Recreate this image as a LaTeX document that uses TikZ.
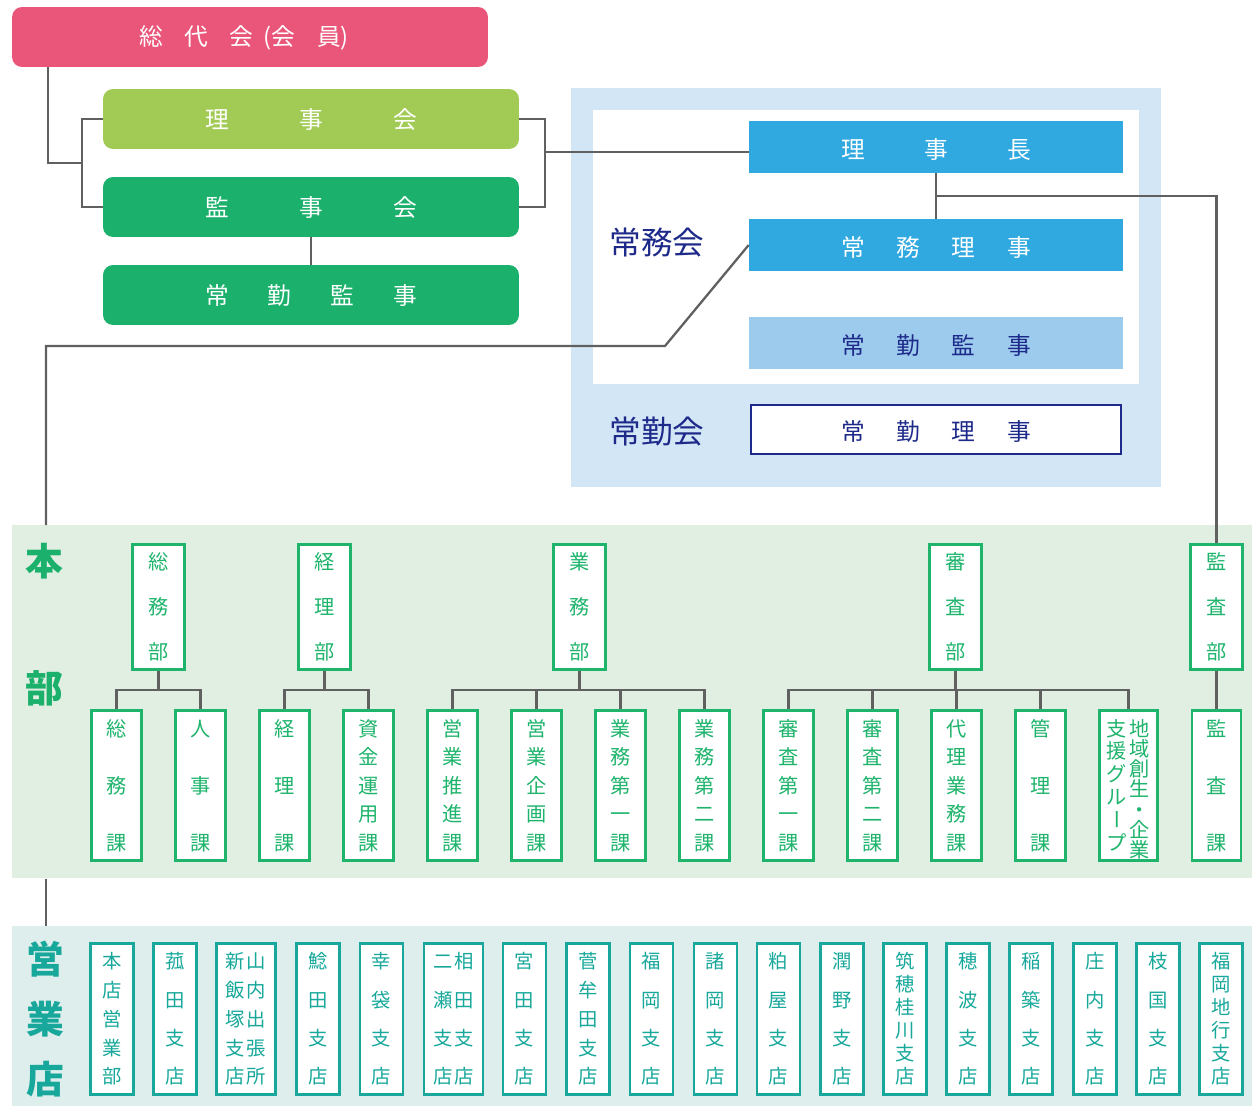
\documentclass[tikz,border=0pt]{standalone}
\usepackage{fontspec}
\setmainfont{Noto Sans CJK JP}
\usetikzlibrary{calc}

\definecolor{sopink}{HTML}{E95679}
\definecolor{rilgreen}{HTML}{A1CB55}
\definecolor{kagreen}{HTML}{1BB06B}
\definecolor{riblue}{HTML}{30A8E0}
\definecolor{kinblue}{HTML}{9DCBEE}
\definecolor{jimubg}{HTML}{D3E6F6}
\definecolor{navy}{HTML}{1E2A8A}
\definecolor{honbg}{HTML}{E1EFE2}
\definecolor{bugreen}{HTML}{1EB46C}
\definecolor{eibg}{HTML}{DDEEEC}
\definecolor{shiteal}{HTML}{17A89B}
\definecolor{linegray}{HTML}{606060}

% one pixel of the layout
\newdimen\pxu \pxu=0.02cm
% characters spread across a row / down a column
\newcommand{\kstrut}{\vrule width0pt height.88em depth.12em}
\newcommand{\hstack}[2]{\hbox to \dimexpr#1\pxu+1em\relax{\kstrut\foreach \ch [count=\k] in {#2}{\ifnum\k>1 \hfil\fi\hbox to 1em{\hss\ch\hss}}}}
\newcommand{\vstack}[2]{\vbox to \dimexpr#1\pxu+.88em\relax{\offinterlineskip\foreach \ch [count=\k] in {#2}{\ifnum\k>1 \vfil\fi\hbox to 1em{\hss\kstrut\ch\hss}}}}
\newcommand{\tatebar}{\rotatebox[origin=c]{-90}{\kstrut ー}}
\newcommand{\lowered}[1]{\raisebox{-2\pxu}[\height][\depth]{#1}}

\tikzset{
  topbox/.style={rounded corners=0.2cm, minimum width=8.32cm, minimum height=1.2cm, inner sep=0pt,
    text=white, font=\fontsize{13.5}{16}\selectfont},
  yakuin/.style={minimum width=7.48cm, minimum height=1.04cm, inner sep=0pt,
    font=\fontsize{13.5}{16}\selectfont},
  bubox/.style={draw=bugreen, line width=1.6pt, fill=white, text=bugreen, inner sep=0pt,
    minimum width=1.04cm, minimum height=2.5cm, font=\fontsize{11.5}{13}\selectfont},
  kabox/.style={bubox, minimum width=1.0cm, minimum height=3.0cm},
  shiten/.style={draw=shiteal, line width=1.6pt, fill=white, text=shiteal, inner sep=0pt,
    minimum width=0.86cm, minimum height=3.02cm, font=\fontsize{11}{13}\selectfont},
  wide/.style={minimum width=1.18cm},
  biglab/.style={inner sep=0pt, font=\fontsize{21.5}{24}\selectfont\bfseries},
  kailab/.style={inner sep=0pt, text=navy, font=\fontsize{18}{20}\selectfont},
  link/.style={draw=linegray, line width=1.3pt},
}

\begin{document}
\begin{tikzpicture}[x=0.02cm, y=-0.02cm]
  \useasboundingbox (0,0) rectangle (1252,1106);

  % backgrounds
  \node[fill=jimubg, minimum width=11.8cm, minimum height=7.98cm, inner sep=0pt, anchor=north west] (jimu) at (571,88) {};
  \node[fill=white, minimum width=10.92cm, minimum height=5.48cm, inner sep=0pt, anchor=north west] (jomukai) at (593,110) {};
  \node[fill=honbg, minimum width=24.8cm, minimum height=7.06cm, inner sep=0pt, anchor=north west] (honbu) at (12,525) {};
  \node[fill=eibg, minimum width=24.8cm, minimum height=3.6cm, inner sep=0pt, anchor=north west] (eigyo) at (12,926) {};
  \coordinate (hx) at (46,0);
  \coordinate (brL) at (82,163);
  \coordinate (brR) at (545,152);
  \coordinate (dg) at (665,346);

  % governing bodies
  \node[topbox, minimum width=9.52cm, fill=sopink] (sodai) at (250,37)
    {\kstrut 総\hspace{12.3pt}代\hspace{12.3pt}会\hspace{6pt}(会\hspace{12.3pt}員)\kern0.24cm};
  \node[topbox, fill=rilgreen] (rijikai) at (311,119) {\hstack{188}{理,事,会}};
  \node[topbox, fill=kagreen] (kanjikai) at (311,207) {\hstack{188}{監,事,会}};
  \node[topbox, fill=kagreen] (kanji) at (311,295) {\hstack{188}{常,勤,監,事}};

  \node[yakuin, fill=riblue, text=white] (richo) at (936,147) {\lowered{\hstack{166}{理,事,長}}};
  \node[yakuin, fill=riblue, text=white] (jomu) at (936,245) {\lowered{\hstack{166}{常,務,理,事}}};
  \node[yakuin, fill=kinblue, text=navy] (jokinkanji) at (936,343) {\lowered{\hstack{166}{常,勤,監,事}}};
  \node[yakuin, draw=navy, line width=1.2pt, fill=white, text=navy, minimum width=7.4cm, minimum height=0.98cm]
    (jokinriji) at (936,429.5) {\lowered{\hstack{166}{常,勤,理,事}}};
  \node[kailab] (jomulab) at (657,243) {常務会};
  \node[kailab] (jokinlab) at (657,432) {常勤会};

  % head office
  \node[biglab, text=kagreen] (honbulab) at (44,625) {\vstack{127}{本,部}};
  \node[bubox] (somubu) at (158.5,607) {\vstack{90}{総,務,部}};
  \node[bubox] (keiribu) at (324.5,607) {\vstack{90}{経,理,部}};
  \node[bubox] (gyomubu) at (579.5,607) {\vstack{90}{業,務,部}};
  \node[bubox] (shinsabu) at (955.5,607) {\vstack{90}{審,査,部}};
  \node[bubox] (kansabu) at (1216.5,607) {\vstack{90}{監,査,部}};

  \node[kabox] (somuka) at (116.5,785.5) {\vstack{114}{総,務,課}};
  \node[kabox] (jinjika) at (200.5,785.5) {\vstack{114}{人,事,課}};
  \node[kabox] (keirika) at (284.5,785.5) {\vstack{114}{経,理,課}};
  \node[kabox] (shikinka) at (368.5,785.5) {\vstack{114}{資,金,運,用,課}};
  \node[kabox] (suishinka) at (452.5,785.5) {\vstack{114}{営,業,推,進,課}};
  \node[kabox] (kikakuka) at (536.5,785.5) {\vstack{114}{営,業,企,画,課}};
  \node[kabox] (gyomu1ka) at (620.5,785.5) {\vstack{114}{業,務,第,一,課}};
  \node[kabox] (gyomu2ka) at (704.5,785.5) {\vstack{114}{業,務,第,二,課}};
  \node[kabox] (shinsa1ka) at (788.5,785.5) {\vstack{114}{審,査,第,一,課}};
  \node[kabox] (shinsa2ka) at (872.5,785.5) {\vstack{114}{審,査,第,二,課}};
  \node[kabox] (dairika) at (956.5,785.5) {\vstack{114}{代,理,業,務,課}};
  \node[kabox] (kanrika) at (1040.5,785.5) {\vstack{114}{管,理,課}};
  \node[kabox, minimum width=1.16cm] (chiikigr) at (1128.5,785.5)
    {\vstack{114}{支,援,グ,ル,\tatebar,プ}\hspace{1.5pt}\vstack{114}{地,域,創,生,・,企,業}};
  \node[kabox, minimum width=0.98cm] (kansaka) at (1216.5,785.5) {\vstack{114}{監,査,課}};

  % branches
  \node[biglab, text=shiteal] (eigyolab) at (45,1019) {\vstack{120}{営,業,店}};
  \node[shiten] (honten) at (112,1019) {\vstack{115}{本,店,営,業,部}};
  \node[shiten] (komoda) at (175,1019) {\vstack{115}{菰,田,支,店}};
  \node[shiten, wide] (iizuka) at (246,1019) {\vstack{115}{新,飯,塚,支,店}\hspace{1pt}\vstack{115}{山,内,出,張,所}};
  \node[shiten] (namazuta) at (318,1019) {\vstack{115}{鯰,田,支,店}};
  \node[shiten] (kobukuro) at (381.5,1019) {\vstack{115}{幸,袋,支,店}};
  \node[shiten, wide] (futase) at (453.5,1019) {\vstack{115}{二,瀬,支,店}\hspace{1pt}\vstack{115}{相,田,支,店}};
  \node[shiten] (miyata) at (524.5,1019) {\vstack{115}{宮,田,支,店}};
  \node[shiten] (sugamuta) at (588,1019) {\vstack{115}{菅,牟,田,支,店}};
  \node[shiten] (fukuoka) at (651.5,1019) {\vstack{115}{福,岡,支,店}};
  \node[shiten] (morooka) at (715.5,1019) {\vstack{115}{諸,岡,支,店}};
  \node[shiten] (kasuya) at (778.5,1019) {\vstack{115}{粕,屋,支,店}};
  \node[shiten] (uruno) at (842,1019) {\vstack{115}{潤,野,支,店}};
  \node[shiten] (keisen) at (905,1019) {\vstack{115}{筑,穂,桂,川,支,店}};
  \node[shiten] (honami) at (968,1019) {\vstack{115}{穂,波,支,店}};
  \node[shiten] (inatsuki) at (1031,1019) {\vstack{115}{稲,築,支,店}};
  \node[shiten] (shonai) at (1095,1019) {\vstack{115}{庄,内,支,店}};
  \node[shiten] (edakuni) at (1158,1019) {\vstack{115}{枝,国,支,店}};
  \node[shiten] (chiko) at (1221,1019) {\vstack{115}{福,岡,地,行,支,店}};

  \begin{scope}[link]
    \draw (sodai.south west) ++(36,0) |- (brL);
    \draw (rijikai.west) -| (brL) |- (kanjikai.west);
    \draw (rijikai.east) -| (brR) |- (kanjikai.east);
    \draw (brR) -- (brR -| richo.west);
    \draw (kanjikai.south) -- (kanji.north);
    \draw (richo.south) -- (jomu.north);
    \draw ($(richo.south)!0.5!(jomu.north)$) -| (kansabu.north);
    \draw (jomu.west) -- (dg) -| (honbu.north -| hx);
    \draw (honbu.south -| hx) -- (eigyo.north -| hx);
    \draw (kansabu.south) -- (kansaka.north);
    \foreach \bu/\ka in {somubu/somuka, somubu/jinjika, keiribu/keirika, keiribu/shikinka,
        gyomubu/suishinka, gyomubu/kikakuka, gyomubu/gyomu1ka, gyomubu/gyomu2ka,
        shinsabu/shinsa1ka, shinsabu/shinsa2ka, shinsabu/dairika, shinsabu/kanrika, shinsabu/chiikigr}
      \draw (\bu.south) -- ++(0,19) -| (\ka.north);
  \end{scope}
\end{tikzpicture}
\end{document}
